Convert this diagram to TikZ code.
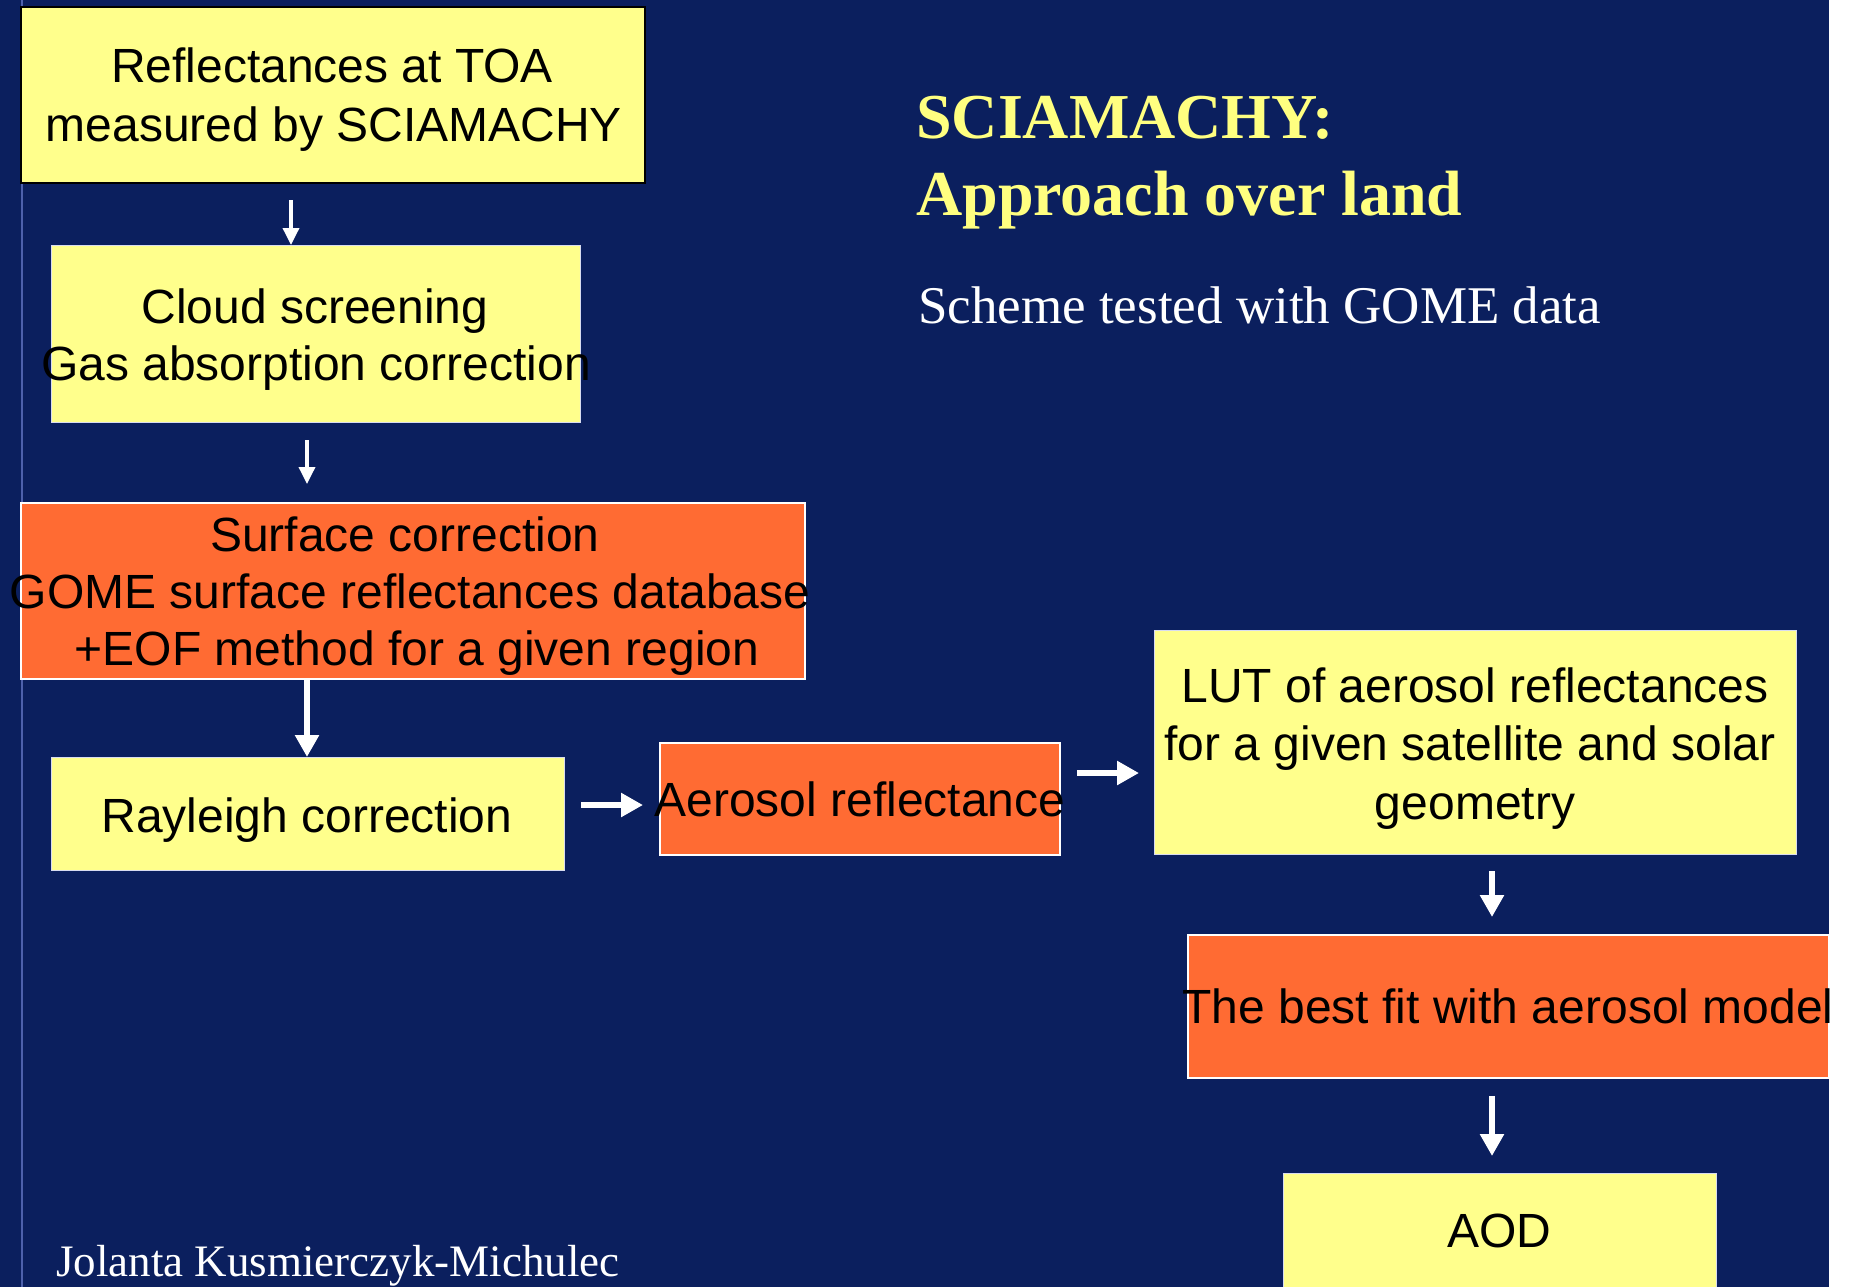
\documentclass[tikz,border=0pt]{standalone}
\usepackage{fontspec}
\setmainfont{Liberation Serif}
\newfontfamily\boxfont{Liberation Sans}
\usetikzlibrary{arrows.meta}
\definecolor{bg}{HTML}{0B1F5E}
\definecolor{boxyellow}{HTML}{FFFF8C}
\definecolor{boxorange}{HTML}{FF6B33}
\definecolor{titleyellow}{HTML}{FFFF80}
\definecolor{sideline}{HTML}{4E61AC}
\definecolor{lightedge}{HTML}{D8DCF0}
\begin{document}
\begin{tikzpicture}[x=1pt,y=-1pt,
  ybox/.style={draw=lightedge, line width=1.2pt, fill=boxyellow, inner sep=0pt, anchor=north west},
  obox/.style={draw=white, line width=1.8pt, fill=boxorange, inner sep=0pt, anchor=north west},
  txt/.style={font=\boxfont\fontsize{48}{57}\selectfont, inner sep=0pt, anchor=base, text=black},
  thinarrow/.style={draw=white, line width=3.5pt, -{Triangle[length=17pt,width=16pt]}},
  thickarrow/.style={draw=white, line width=6.5pt, -{Triangle[length=22pt,width=23pt]}}
]
\useasboundingbox (0,0) rectangle (1849,1287);
\fill[white] (0,0) rectangle (1849,1287);
\fill[bg] (0,0) rectangle (1829,1287);
\coordinate (lt) at (22,0);
\coordinate (lb) at (22,1287);
\draw[sideline, line width=2.5pt] (lt) -- (lb);

% title texts
\node[anchor=base west, inner sep=0pt, font=\bfseries\fontsize{64}{64}\selectfont, text=titleyellow] (title1) at (916,139) {SCIAMACHY:};
\node[anchor=base west, inner sep=0pt, font=\bfseries\fontsize{64}{64}\selectfont, text=titleyellow] (title2) at (916,215) {Approach over land};
\node[anchor=base west, inner sep=0pt, font=\fontsize{53}{53}\selectfont, text=white] (sub) at (918,323) {Scheme tested with GOME data};
\node[anchor=base west, inner sep=0pt, font=\fontsize{45}{45}\selectfont, text=white] (author) at (56,1276) {Jolanta Kusmierczyk-Michulec};

% boxes
\node[ybox, draw=black, line width=2pt, minimum width=624pt, minimum height=176pt] (b1) at (20,6) {};
\node[ybox, minimum width=529pt, minimum height=177pt] (b2) at (51,245) {};
\node[obox, minimum width=784pt, minimum height=176pt] (b3) at (20,502) {};
\node[ybox, minimum width=513pt, minimum height=113pt] (b4) at (51,757) {};
\node[obox, minimum width=400pt, minimum height=112pt] (b5) at (659,742) {};
\node[ybox, minimum width=642pt, minimum height=224pt] (b6) at (1154,630) {};
\node[obox, minimum width=641pt, minimum height=143pt] (b7) at (1187,934) {};
\node[ybox, minimum width=433pt, minimum height=125pt] (b8) at (1283,1173) {};

% box texts
\node[txt] (t1a) at (332,83) {Reflectances at TOA};
\node[txt] (t1b) at (334,142) {measured by SCIAMACHY};
\node[txt] (t2a) at (315,323) {Cloud screening};
\node[txt] (t2b) at (316,380) {Gas absorption correction};
\node[txt] (t3a) at (405,551) {Surface correction};
\node[txt] (t3b) at (410,608) {GOME surface reflectances database};
\node[txt] (t3c) at (417,665) {+EOF method for a given region};
\node[txt] (t4) at (307,832) {Rayleigh correction};
\node[txt] (t5) at (860,816) {Aerosol reflectance};
\node[txt] (t6a) at (1475,702) {LUT of aerosol reflectances};
\node[txt] (t6b) at (1470,760) {for a given satellite and solar};
\node[txt] (t6c) at (1475,819) {geometry};
\begin{scope}
\clip (0,0) rectangle (1829,1287);
\node[txt] (t7) at (1508,1023) {The best fit with aerosol model};
\end{scope}
\node[txt] (t8) at (1499,1247) {AOD};

% connectors
\coordinate (ax1) at (291,0);
\coordinate (ax2) at (307,0);
\coordinate (ay4) at (0,805);
\coordinate (ay5) at (0,773);
\coordinate (ax6) at (1492,0);
\draw[thinarrow, shorten <=16pt] (b1.south -| ax1) -- (b2.north -| ax1);
\draw[thinarrow, shorten <=17pt, shorten >=18pt] (b2.south -| ax2) -- (b3.north -| ax2);
\draw[thickarrow] (b3.south -| ax2) -- (b4.north -| ax2);
\draw[thickarrow, shorten <=16pt, shorten >=16pt] (b4.east |- ay4) -- (b5.west |- ay4);
\draw[thickarrow, shorten <=16pt, shorten >=15pt] (b5.east |- ay5) -- (b6.west |- ay5);
\draw[thickarrow, shorten <=16pt, shorten >=17pt] (b6.south -| ax6) -- (b7.north -| ax6);
\draw[thickarrow, shorten <=17pt, shorten >=17pt] (b7.south -| ax6) -- (b8.north -| ax6);
\end{tikzpicture}
\end{document}
